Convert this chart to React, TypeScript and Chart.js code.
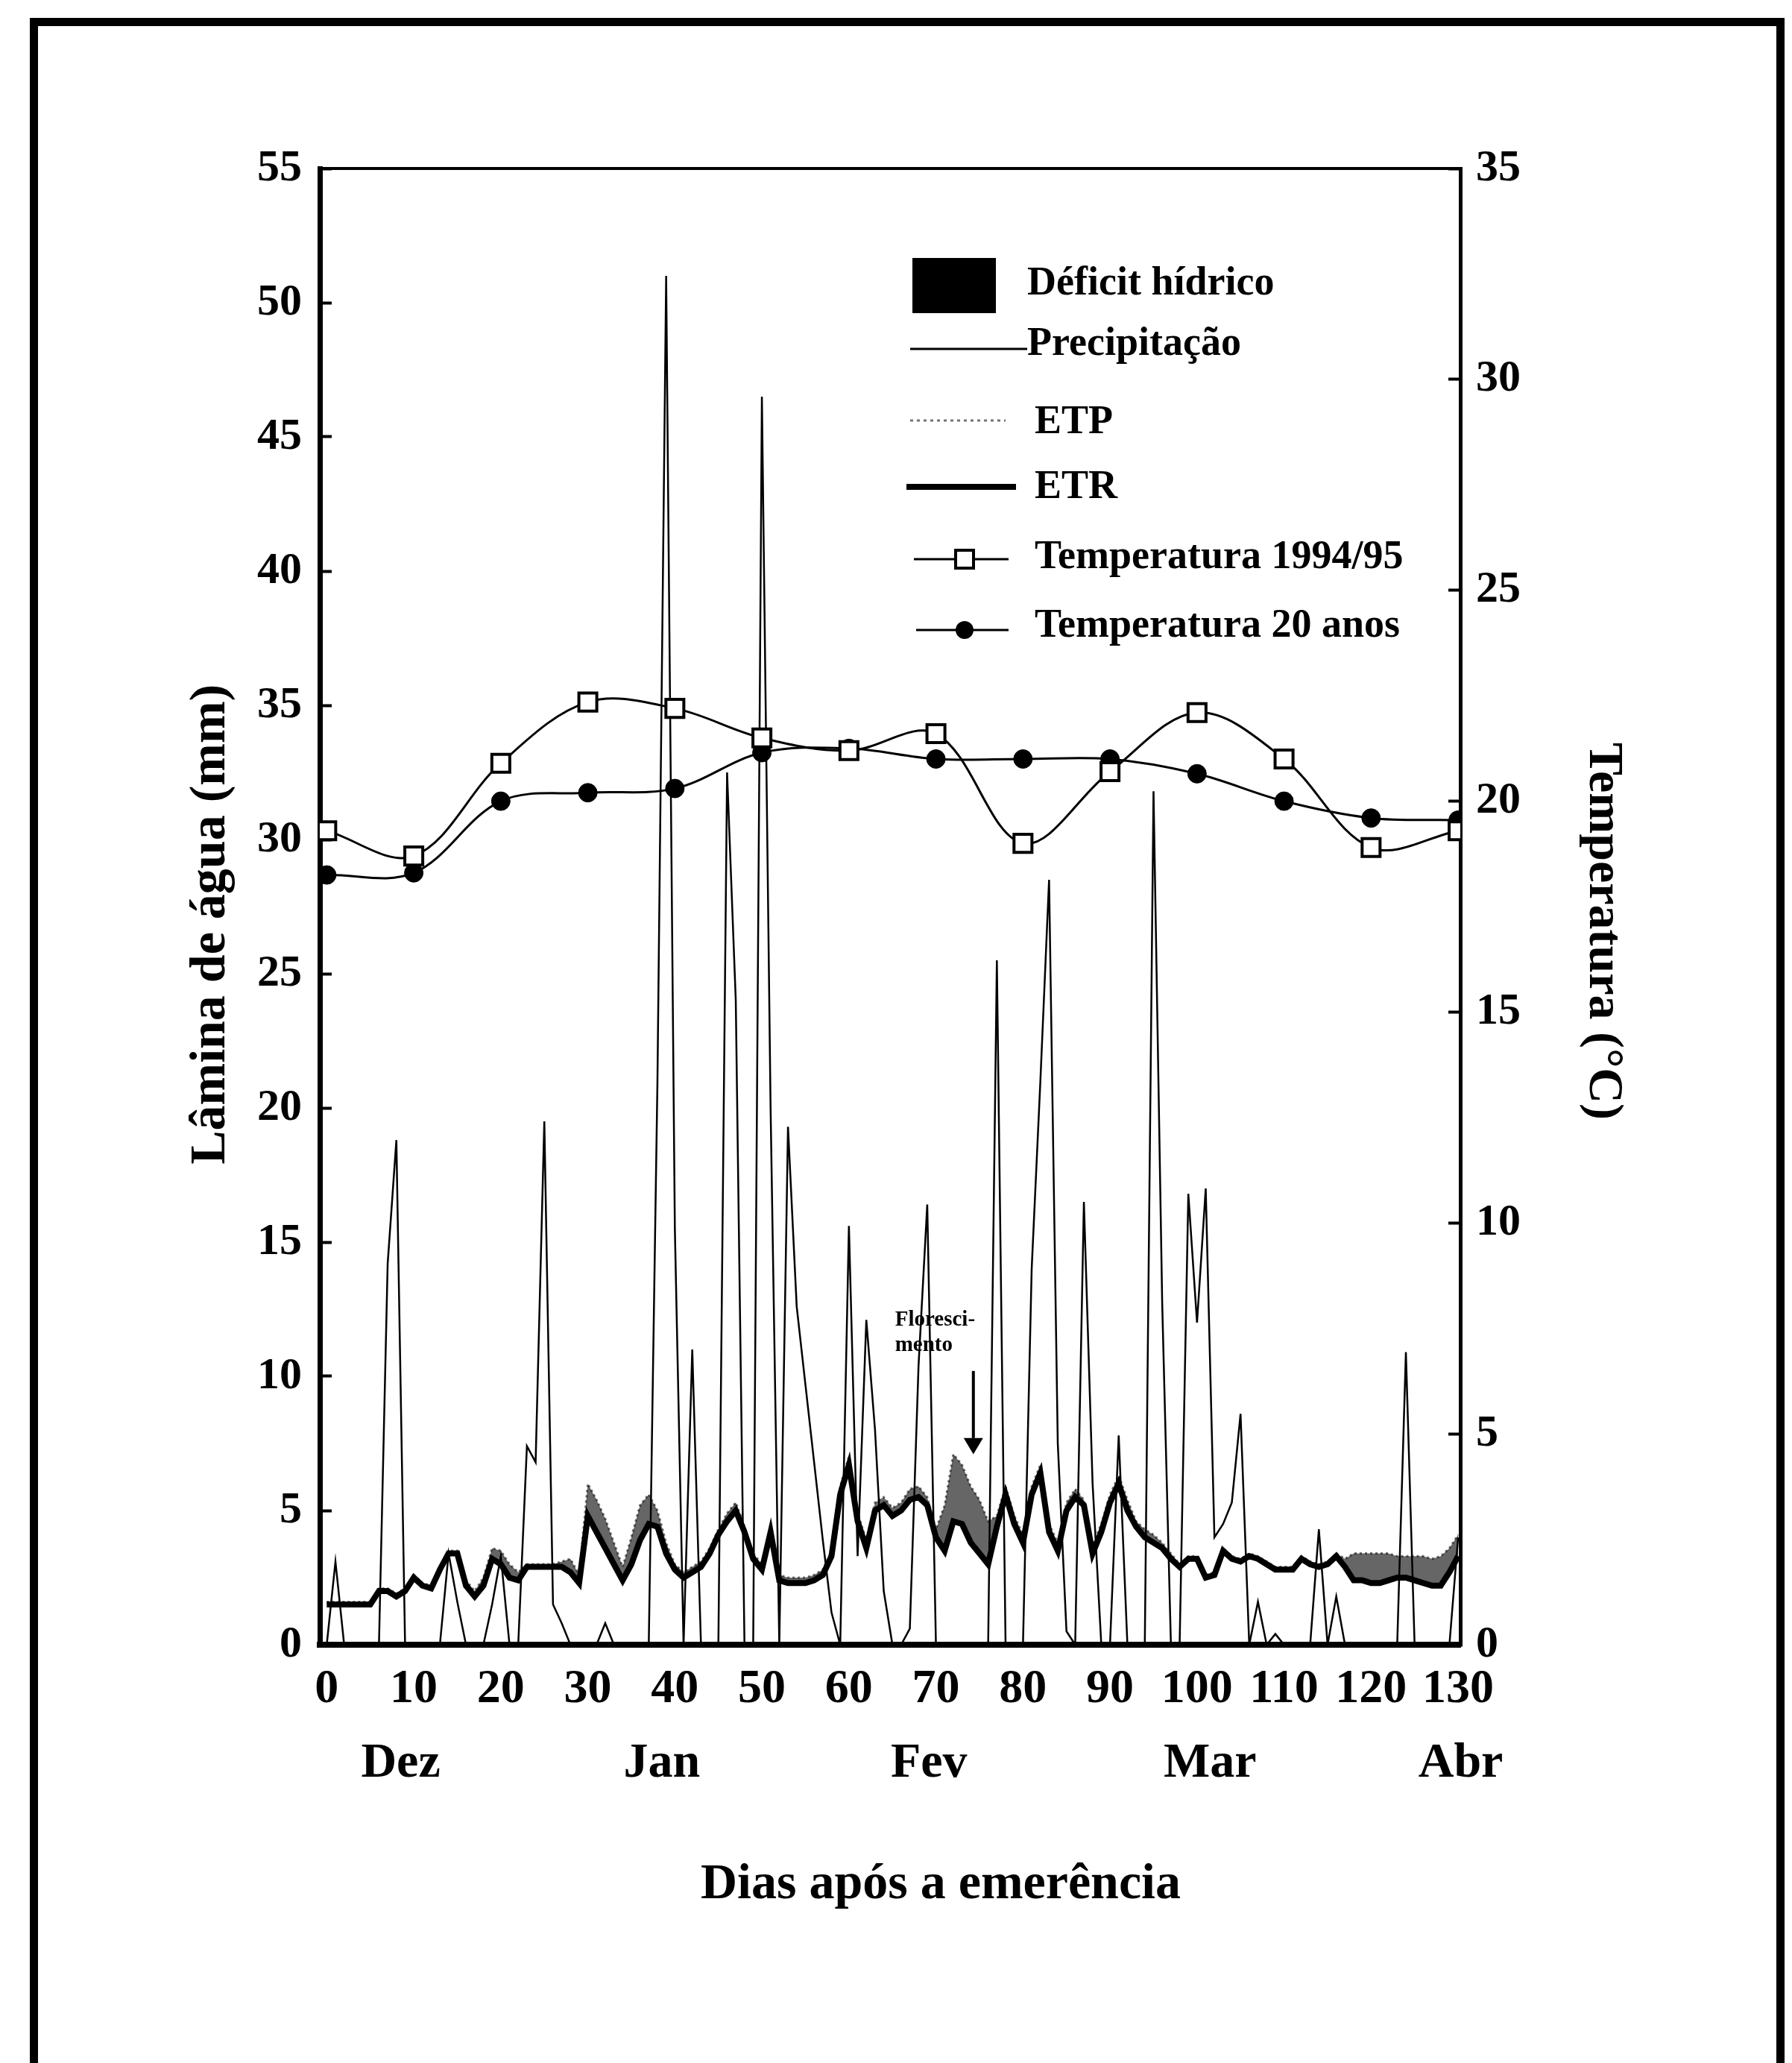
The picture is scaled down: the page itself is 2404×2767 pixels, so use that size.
import React, { useEffect, useRef } from 'react';
import { Chart, registerables } from 'chart.js';

Chart.register(...registerables);

// ---------------- data ----------------
// daily precipitation, mm (day 0 .. 130)
const PRECIP = [
  0, 3.1, 0, 0, 0, 0, 0, 14.2, 18.8, 0,
  0, 0, 0, 0, 3.4, 1.6, 0, 0, 0, 1.5,
  3.3, 0, 0, 7.4, 6.8, 19.5, 1.5, 0.8, 0, 0,
  0, 0, 0.8, 0, 0, 0, 0, 0, 21, 51,
  15.5, 0, 11, 0, 0, 0, 32.5, 24, 0, 0,
  46.5, 20, 0, 19.3, 12.6, 9.7, 6.8, 3.9, 1.2, 0,
  15.6, 3.3, 12.1, 8, 2, 0, 0, 0.6, 10.4, 16.4,
  0, 0, 0, 0, 0, 0, 0, 25.5, 0, 0,
  0, 14, 21, 28.5, 7.5, 0.5, 0, 16.5, 6, 0,
  0, 7.8, 0, 0, 0, 31.8, 12.7, 0, 0, 16.8,
  12, 17, 4, 4.5, 5.3, 8.6, 0, 1.6, 0, 0.4,
  0, 0, 0, 0, 4.3, 0, 1.8, 0, 0, 0,
  0, 0, 0, 0, 10.9, 0, 0, 0, 0, 0,
  4,
];

// daily potential evapotranspiration (ETP), mm
const ETP = [
  1.6, 1.6, 1.6, 1.6, 1.6, 1.6, 2.1, 2.1, 1.9, 2.1,
  2.6, 2.3, 2.2, 2.9, 3.5, 3.5, 2.4, 2.0, 2.5, 3.6,
  3.5, 3.0, 2.7, 3.0, 3.0, 3.0, 3.0, 3.1, 3.2, 2.6,
  6.0, 5.4, 4.7, 3.8, 2.9, 4.0, 5.2, 5.6, 5.0, 3.8,
  3.0, 2.7, 2.9, 3.1, 3.6, 4.3, 4.9, 5.3, 4.4, 3.4,
  3.0, 4.4, 2.6, 2.5, 2.5, 2.5, 2.6, 2.8, 3.5, 5.9,
  7.0, 4.9, 3.9, 5.3, 5.5, 5.1, 5.3, 5.8, 5.9, 5.5,
  4.3, 5.2, 7.1, 6.7, 5.9, 5.4, 4.6, 4.8, 5.9, 4.8,
  4.1, 5.9, 6.7, 4.5, 3.8, 5.3, 5.8, 5.4, 3.7, 4.5,
  5.6, 6.3, 5.4, 4.6, 4.3, 4.1, 3.8, 3.4, 3.0, 3.3,
  3.3, 2.6, 2.7, 3.6, 3.3, 3.2, 3.4, 3.3, 3.1, 2.9,
  2.9, 2.9, 3.3, 3.1, 3.0, 3.1, 3.4, 3.2, 3.4, 3.4,
  3.4, 3.4, 3.4, 3.3, 3.3, 3.3, 3.3, 3.2, 3.3, 3.6,
  4.1,
];

// daily real evapotranspiration (ETR), mm
const ETR = [
  1.5, 1.5, 1.5, 1.5, 1.5, 1.5, 2.0, 2.0, 1.8, 2.0,
  2.5, 2.2, 2.1, 2.8, 3.4, 3.4, 2.2, 1.8, 2.2, 3.2,
  3.0, 2.5, 2.4, 2.9, 2.9, 2.9, 2.9, 2.9, 2.7, 2.3,
  4.8, 4.2, 3.6, 3.0, 2.4, 3.0, 3.9, 4.5, 4.4, 3.4,
  2.8, 2.5, 2.7, 2.9, 3.4, 4.1, 4.6, 5.0, 4.2, 3.2,
  2.8, 4.2, 2.4, 2.3, 2.3, 2.3, 2.4, 2.6, 3.3, 5.6,
  6.7, 4.6, 3.6, 5.0, 5.2, 4.8, 5.0, 5.4, 5.5, 5.2,
  4.0, 3.5, 4.6, 4.5, 3.8, 3.4, 3.0, 4.4, 5.6, 4.5,
  3.8, 5.6, 6.4, 4.2, 3.5, 5.0, 5.5, 5.2, 3.4, 4.2,
  5.3, 6.0, 5.0, 4.4, 4.0, 3.8, 3.6, 3.2, 2.9, 3.2,
  3.2, 2.5, 2.6, 3.5, 3.2, 3.1, 3.3, 3.2, 3.0, 2.8,
  2.8, 2.8, 3.2, 3.0, 2.9, 3.0, 3.3, 2.9, 2.4, 2.4,
  2.3, 2.3, 2.4, 2.5, 2.5, 2.4, 2.3, 2.2, 2.2, 2.7,
  3.3,
];

// temperatures every 10 days, °C
const TEMP_DAYS = [0, 10, 20, 30, 40, 50, 60, 70, 80, 90, 100, 110, 120, 130];
const TEMP_1994_95 = [19.3, 18.7, 20.9, 22.35, 22.2, 21.5, 21.2, 21.6, 19.0, 20.7, 22.1, 21.0, 18.9, 19.3];
const TEMP_20_ANOS = [18.25, 18.3, 20.0, 20.2, 20.3, 21.15, 21.25, 21.0, 21.0, 21.0, 20.65, 20.0, 19.6, 19.55];

// tick labels
const X_TICKS = [0, 10, 20, 30, 40, 50, 60, 70, 80, 90, 100, 110, 120, 130];
const Y_LEFT_TICKS = [0, 5, 10, 15, 20, 25, 30, 35, 40, 45, 50, 55];
const Y_RIGHT_TICKS = [0, 5, 10, 15, 20, 25, 30, 35];
const MONTH_LABELS = ['Dez', 'Jan', 'Fev', 'Mar', 'Abr'];
const MONTH_DAYS = [8.5, 38.5, 69.2, 101.5, 130.3];

const LEGEND_LABELS = ['Déficit hídrico', 'Precipitação', 'ETP', 'ETR', 'Temperatura 1994/95', 'Temperatura 20 anos'];
const FLOWERING_TEXT = ['Floresci-', 'mento'];
const FLOWERING_DAY = 74.3;

// ---------------- styling ----------------
const W = 2404;
const H = 2767;
const FONT = "'Liberation Serif', 'Times New Roman', serif";

const decorPlugin = {
  id: 'decor',
  afterDraw(chart: any) {
    const { ctx, chartArea: ca, scales } = chart;
    ctx.save();
    // top frame line of the plot
    ctx.strokeStyle = '#000';
    ctx.lineWidth = 4;
    ctx.beginPath();
    ctx.moveTo(ca.left - 3, ca.top);
    ctx.lineTo(ca.right + 2, ca.top);
    ctx.stroke();

    // ---- legend ----
    const L = ca.left;
    const T = ca.top;
    ctx.fillStyle = '#000';
    ctx.font = `bold 54px ${FONT}`;
    ctx.textBaseline = 'middle';
    ctx.textAlign = 'left';

    // déficit hídrico box
    ctx.fillRect(L + 795, T + 120, 112, 74);
    ctx.fillText(LEGEND_LABELS[0], L + 949, T + 155);

    // precipitação
    ctx.lineWidth = 3;
    ctx.beginPath();
    ctx.moveTo(L + 792, T + 242);
    ctx.lineTo(L + 949, T + 242);
    ctx.stroke();
    ctx.fillText(LEGEND_LABELS[1], L + 949, T + 236);

    // ETP
    ctx.save();
    ctx.strokeStyle = 'rgba(0,0,0,0.55)';
    ctx.lineWidth = 3;
    ctx.setLineDash([4, 5]);
    ctx.beginPath();
    ctx.moveTo(L + 792, T + 338);
    ctx.lineTo(L + 920, T + 338);
    ctx.stroke();
    ctx.restore();
    ctx.fillText(LEGEND_LABELS[2], L + 959, T + 341);

    // ETR
    ctx.lineWidth = 8;
    ctx.beginPath();
    ctx.moveTo(L + 787, T + 427);
    ctx.lineTo(L + 934, T + 427);
    ctx.stroke();
    ctx.fillText(LEGEND_LABELS[3], L + 959, T + 428);

    // temperatura 1994/95
    ctx.lineWidth = 3;
    ctx.beginPath();
    ctx.moveTo(L + 797, T + 524);
    ctx.lineTo(L + 924, T + 524);
    ctx.stroke();
    ctx.fillStyle = '#fff';
    ctx.fillRect(L + 865 - 12, T + 524 - 12, 24, 24);
    ctx.lineWidth = 4;
    ctx.strokeRect(L + 865 - 12, T + 524 - 12, 24, 24);
    ctx.fillStyle = '#000';
    ctx.fillText(LEGEND_LABELS[4], L + 959, T + 522);

    // temperatura 20 anos
    ctx.lineWidth = 3;
    ctx.beginPath();
    ctx.moveTo(L + 800, T + 619);
    ctx.lineTo(L + 924, T + 619);
    ctx.stroke();
    ctx.beginPath();
    ctx.arc(L + 865, T + 619, 12, 0, Math.PI * 2);
    ctx.fill();
    ctx.fillText(LEGEND_LABELS[5], L + 959, T + 614);

    // ---- flowering annotation ----
    const xs = scales.x;
    const ys = scales.y;
    ctx.font = `bold 29px ${FONT}`;
    ctx.textBaseline = 'alphabetic';
    const tx = xs.getPixelForValue(65.3);
    ctx.fillText(FLOWERING_TEXT[0], tx, ys.getPixelForValue(11.9));
    ctx.fillText(FLOWERING_TEXT[1], tx, ys.getPixelForValue(10.95));
    const ax = xs.getPixelForValue(FLOWERING_DAY);
    const y0 = ys.getPixelForValue(10.2);
    const yTip = ys.getPixelForValue(7.1);
    const yHead = ys.getPixelForValue(7.7);
    ctx.lineWidth = 4;
    ctx.beginPath();
    ctx.moveTo(ax, y0);
    ctx.lineTo(ax, yHead);
    ctx.stroke();
    ctx.beginPath();
    ctx.moveTo(ax - 13, yHead);
    ctx.lineTo(ax + 13, yHead);
    ctx.lineTo(ax, yTip);
    ctx.closePath();
    ctx.fill();
    ctx.restore();
  },
};

export default function App() {
  const ref = useRef<HTMLCanvasElement | null>(null);

  useEffect(() => {
    if (!ref.current) return;
    const days = PRECIP.map((_, i) => i);
    const xy = (arr: number[]) => days.map((d, i) => ({ x: d, y: arr[i] }));

    const chart = new Chart(ref.current, {
      type: 'line',
      data: {
        datasets: [
          {
            label: 'Temperatura 1994/95',
            data: TEMP_DAYS.map((d, i) => ({ x: d, y: TEMP_1994_95[i] })),
            yAxisID: 'yT',
            borderColor: '#000',
            borderWidth: 3,
            tension: 0.35,
            pointStyle: 'rect',
            pointRadius: 17,
            pointBorderWidth: 4,
            pointBackgroundColor: '#fff',
            pointBorderColor: '#000',
            fill: false,
          },
          {
            label: 'Temperatura 20 anos',
            data: TEMP_DAYS.map((d, i) => ({ x: d, y: TEMP_20_ANOS[i] })),
            yAxisID: 'yT',
            borderColor: '#000',
            borderWidth: 3,
            tension: 0.35,
            pointStyle: 'circle',
            pointRadius: 12.5,
            pointBorderWidth: 1,
            pointBackgroundColor: '#000',
            pointBorderColor: '#000',
            fill: false,
          },
          {
            label: 'ETR',
            data: xy(ETR),
            yAxisID: 'y',
            borderColor: '#000',
            borderWidth: 8,
            pointRadius: 0,
            tension: 0,
            fill: false,
          },
          {
            label: 'ETP',
            data: xy(ETP),
            yAxisID: 'y',
            borderColor: 'rgba(0,0,0,0.55)',
            borderWidth: 3,
            borderDash: [3, 4],
            pointRadius: 0,
            tension: 0,
            fill: { target: 2, above: 'rgba(0,0,0,0.6)', below: 'rgba(0,0,0,0)' },
          },
          {
            label: 'Precipitação',
            data: xy(PRECIP),
            yAxisID: 'y',
            borderColor: '#000',
            borderWidth: 2.5,
            pointRadius: 0,
            tension: 0,
            fill: false,
          },
        ],
      },
      options: {
        responsive: false,
        animation: false,
        devicePixelRatio: 1,
        layout: { padding: { top: 226, left: 0, right: 0, bottom: 171 } },
        plugins: {
          legend: { display: false },
          tooltip: { enabled: false },
          title: { display: false },
        },
        scales: {
          x: {
            type: 'linear',
            position: 'bottom',
            min: -0.8,
            max: 130.25,
            weight: 0,
            afterBuildTicks: (s: any) => {
              s.ticks = X_TICKS.map((v) => ({ value: v }));
            },
            afterFit: (s: any) => {
              s.height = 100;
            },
            ticks: {
              autoSkip: false,
              maxRotation: 0,
              padding: 22,
              color: '#000',
              font: { family: FONT, size: 64, weight: 'bold' },
              callback: (v: any) => String(v),
            },
            grid: { display: false, drawTicks: false },
            border: { display: true, width: 8, color: '#000' },
          },
          xMonth: {
            type: 'linear',
            position: 'bottom',
            min: -0.8,
            max: 130.25,
            weight: 1,
            afterBuildTicks: (s: any) => {
              s.ticks = MONTH_DAYS.map((v) => ({ value: v }));
            },
            afterFit: (s: any) => {
              s.height = 290;
            },
            ticks: {
              autoSkip: false,
              maxRotation: 0,
              padding: 20,
              color: '#000',
              font: { family: FONT, size: 66, weight: 'bold' },
              callback: (_v: any, i: number) => MONTH_LABELS[i],
            },
            grid: { display: false, drawTicks: false },
            border: { display: false },
            title: {
              display: true,
              text: '\u2003\u2003Dias após a emerência',
              color: '#000',
              font: { family: FONT, size: 68, weight: 'bold' },
              padding: { top: 0, bottom: 27 },
            },
          },
          y: {
            type: 'linear',
            position: 'left',
            min: 0,
            max: 55,
            afterBuildTicks: (s: any) => {
              s.ticks = Y_LEFT_TICKS.map((v) => ({ value: v }));
            },
            afterFit: (s: any) => {
              s.width = 429;
            },
            ticks: {
              padding: 40,
              color: '#000',
              font: { family: FONT, size: 60, weight: 'bold' },
            },
            grid: {
              drawOnChartArea: false,
              drawTicks: true,
              tickLength: -16,
              tickWidth: 4,
              tickColor: '#000',
            },
            border: { display: true, width: 7, color: '#000' },
            title: {
              display: true,
              text: 'Lâmina de água (mm)\u2002\u2009',
              color: '#000',
              font: { family: FONT, size: 68, weight: 'bold' },
              padding: { top: 243, bottom: 0 },
            },
          },
          yT: {
            type: 'linear',
            position: 'right',
            min: 0,
            max: 35,
            afterBuildTicks: (s: any) => {
              s.ticks = Y_RIGHT_TICKS.map((v) => ({ value: v }));
            },
            afterFit: (s: any) => {
              s.width = 445;
            },
            ticks: {
              padding: 37,
              color: '#000',
              font: { family: FONT, size: 60, weight: 'bold' },
            },
            grid: {
              drawOnChartArea: false,
              drawTicks: true,
              tickLength: -16,
              tickWidth: 4,
              tickColor: '#000',
            },
            border: { display: true, width: 5, color: '#000' },
            title: {
              display: true,
              text: '\u2003Temperatura (°C)',
              color: '#000',
              font: { family: FONT, size: 66, weight: 'bold' },
              padding: { top: 214, bottom: 0 },
            },
          },
        },
      } as any,
      plugins: [decorPlugin],
    });
    return () => chart.destroy();
  }, []);

  return (
    <div
      style={{
        position: 'absolute',
        left: 0,
        top: 0,
        width: W,
        height: H,
        overflow: 'hidden',
        background: '#fff',
      }}
    >
      <div
        style={{
          position: 'absolute',
          left: 40,
          top: 24,
          width: 2354,
          height: 2900,
          border: '11px solid #000',
          boxSizing: 'border-box',
        }}
      />
      <canvas
        ref={ref}
        width={W}
        height={H}
        style={{ position: 'absolute', left: 0, top: 0, width: W, height: H }}
      />
    </div>
  );
}
